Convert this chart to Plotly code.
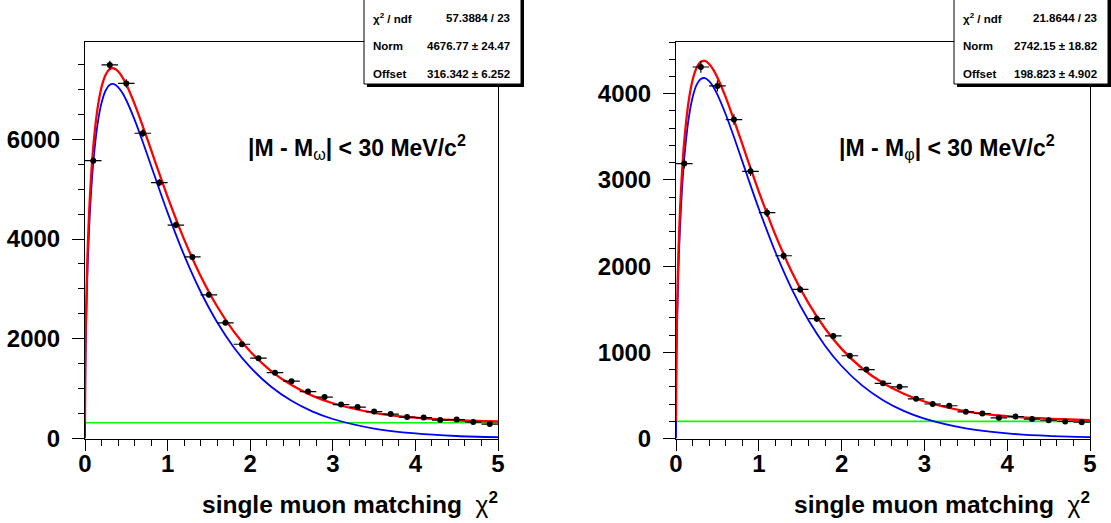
import numpy as np
import plotly.graph_objects as go

# ---------------- data ----------------
BIN_CENTERS = [0.1, 0.3, 0.5, 0.7, 0.9, 1.1, 1.3, 1.5, 1.7, 1.9, 2.1, 2.3, 2.5,
               2.7, 2.9, 3.1, 3.3, 3.5, 3.7, 3.9, 4.1, 4.3, 4.5, 4.7, 4.9]
BIN_HALF_WIDTH = 0.1

OMEGA_COUNTS = [5570, 7490, 7120, 6120, 5130, 4280, 3640, 2880, 2320, 1890, 1610,
                1320, 1150, 940, 830, 680, 630, 540, 490, 430, 420, 370, 380, 330, 290]
PHI_COUNTS = [3190, 4310, 4090, 3700, 3100, 2620, 2120, 1730, 1390, 1190, 960,
              800, 640, 600, 460, 400, 380, 310, 290, 240, 255, 225, 212, 197, 189]

CURVE_X = [0, 0.002, 0.005, 0.01, 0.03, 0.05, 0.07, 0.1, 0.15, 0.2, 0.25, 0.3, 0.35,
           0.4, 0.45, 0.5, 0.6, 0.7, 0.8, 0.9, 1.0, 1.2, 1.4, 1.6, 1.8, 2.0, 2.25,
           2.5, 2.75, 3.0, 3.5, 4.0, 4.5, 5.0]
OMEGA_SIGNAL = [0, 905, 1425, 2000, 3362, 4212, 4837, 5526, 6279, 6726, 6977, 7091, 7106,
                7047, 6936, 6782, 6394, 5944, 5470, 4993, 4530, 3677, 2942, 2330, 1831,
                1430, 1042, 755, 544, 391, 199, 101, 50, 25]
OMEGA_TOTAL = [316, 1221, 1741, 2316, 3678, 4528, 5153, 5842, 6595, 7042, 7293, 7407, 7422,
               7363, 7252, 7098, 6710, 6260, 5786, 5309, 4846, 3993, 3258, 2646, 2147,
               1746, 1358, 1071, 860, 707, 515, 417, 366, 341]
PHI_SIGNAL = [0, 533, 838, 1177, 1978, 2478, 2846, 3251, 3695, 3957, 4105, 4172, 4181,
              4146, 4081, 3990, 3762, 3497, 3218, 2937, 2666, 2164, 1731, 1371, 1077,
              841, 613, 444, 320, 230, 117, 59, 30, 15]
PHI_TOTAL = [199, 732, 1037, 1376, 2177, 2677, 3045, 3450, 3894, 4156, 4304, 4371, 4380,
             4345, 4280, 4189, 3961, 3696, 3417, 3136, 2865, 2363, 1930, 1570, 1276,
             1040, 812, 643, 519, 429, 316, 258, 229, 214]

X_RANGE = [0, 5]
OMEGA_OFFSET = 316.342
PHI_OFFSET = 198.823

OMEGA_STATS = [("χ<sup>2</sup> / ndf", "57.3884 / 23"),
               ("Norm", "4676.77 ± 24.47"),
               ("Offset", "316.342 ± 6.252")]
PHI_STATS = [("χ<sup>2</sup> / ndf", "21.8644 / 23"),
             ("Norm", "2742.15 ± 18.82"),
             ("Offset", "198.823 ± 4.902")]

OMEGA_LABEL = "<b>|M - M</b><sub>ω</sub><b>| &lt; 30 MeV/c<sup>2</sup></b>"
PHI_LABEL = "<b>|M - M</b><sub>φ</sub><b>| &lt; 30 MeV/c<sup>2</sup></b>"
X_TITLE = "<b>single muon matching</b>  χ<b><sup>2</sup></b>"

# ---------------- layout helpers ----------------
W, H = 1111, 523
FONT = "Liberation Sans, Arial, Helvetica, sans-serif"


def fx(p):
    return p / W


def fy(p):
    return 1 - p / H


PANELS = [
    dict(xa="x", ya="y", left=85, right=498, counts=OMEGA_COUNTS, sig=OMEGA_SIGNAL,
         tot=OMEGA_TOTAL, off=OMEGA_OFFSET, ymax=7950, dtick=2000, minor=500,
         stats=OMEGA_STATS, box=(364, 521), label=OMEGA_LABEL),
    dict(xa="x2", ya="y2", left=676, right=1090, counts=PHI_COUNTS, sig=PHI_SIGNAL,
         tot=PHI_TOTAL, off=PHI_OFFSET, ymax=4600, dtick=1000, minor=200,
         stats=PHI_STATS, box=(954, 1108), label=PHI_LABEL),
]
TOP, BOTTOM = 42, 438.5

fig = go.Figure()
shapes, annotations = [], []
layout = dict(width=W, height=H, margin=dict(l=0, r=0, t=0, b=0),
              paper_bgcolor="white", plot_bgcolor="white", showlegend=False,
              font=dict(family=FONT, color="black"))

for i, p in enumerate(PANELS):
    xa, ya = p["xa"], p["ya"]
    fig.add_trace(go.Scatter(x=X_RANGE, y=[p["off"], p["off"]], mode="lines",
                             line=dict(color="#00ff00", width=1.6), xaxis=xa, yaxis=ya))
    fig.add_trace(go.Scatter(x=CURVE_X, y=p["sig"], mode="lines",
                             line=dict(color="#0000ff", width=1.8, shape="spline", smoothing=0.8),
                             xaxis=xa, yaxis=ya))
    fig.add_trace(go.Scatter(x=CURVE_X, y=p["tot"], mode="lines",
                             line=dict(color="#ff0000", width=2.3, shape="spline", smoothing=0.8),
                             xaxis=xa, yaxis=ya))
    fig.add_trace(go.Scatter(
        x=BIN_CENTERS, y=p["counts"], mode="markers",
        marker=dict(color="black", size=6),
        error_x=dict(type="constant", value=BIN_HALF_WIDTH, thickness=1.2, width=0, color="black"),
        error_y=dict(type="data", array=np.sqrt(p["counts"]), thickness=1.2, width=0, color="black"),
        xaxis=xa, yaxis=ya))

    sfx = "" if i == 0 else "2"
    layout["xaxis" + sfx] = dict(
        domain=[fx(p["left"]), fx(p["right"])], range=X_RANGE, anchor=ya,
        showline=True, linecolor="black", linewidth=1, mirror=True,
        ticks="outside", ticklen=11, tickwidth=1, tickcolor="black", dtick=1, tick0=0,
        minor=dict(ticks="outside", ticklen=6, dtick=0.2, tick0=0, tickcolor="black", showgrid=False),
        tickfont=dict(family=FONT, size=24, weight="bold", color="black"),
        showgrid=False, zeroline=False, automargin=False, ticklabelstandoff=-7)
    layout["yaxis" + sfx] = dict(
        domain=[fy(BOTTOM), fy(TOP)], range=[0, p["ymax"]], anchor=xa,
        showline=True, linecolor="black", linewidth=1, mirror=True,
        ticks="outside", ticklen=12, tickwidth=1, tickcolor="black", dtick=p["dtick"], tick0=0,
        minor=dict(ticks="outside", ticklen=6, dtick=p["minor"], tick0=0, tickcolor="black", showgrid=False),
        tickfont=dict(family=FONT, size=24, weight="bold", color="black"),
        showgrid=False, zeroline=False, automargin=False, ticklabelstandoff=7)

    # axis title (right aligned, like ROOT)
    annotations.append(dict(text=X_TITLE, xref="paper", yref="paper",
                            x=fx(p["right"] + 2), y=fy(502), xanchor="right", yanchor="middle",
                            showarrow=False, font=dict(family=FONT, size=24.5, color="black")))
    # selection label
    annotations.append(dict(text=p["label"], xref="paper", yref="paper",
                            x=fx(p["left"] + 161), y=fy(147), xanchor="left", yanchor="middle",
                            showarrow=False, font=dict(family=FONT, size=23, color="black")))

    # stats box with shadow
    bx0, bx1 = p["box"]
    shapes.append(dict(type="rect", xref="paper", yref="paper", layer="above",
                       x0=fx(bx0 + 3), x1=fx(bx1 + 3), y0=fy(87), y1=fy(-5),
                       fillcolor="black", line=dict(width=0)))
    shapes.append(dict(type="rect", xref="paper", yref="paper", layer="above",
                       x0=fx(bx0), x1=fx(bx1), y0=fy(84), y1=fy(-5),
                       fillcolor="white", line=dict(color="black", width=1)))
    for (name, val), yy in zip(p["stats"], [18, 46, 74]):
        annotations.append(dict(text="<b>" + name + "</b>", xref="paper", yref="paper",
                                x=fx(bx0 + 7), y=fy(yy), xanchor="left", yanchor="middle",
                                showarrow=False, font=dict(family=FONT, size=11.5, color="black")))
        annotations.append(dict(text="<b>" + val + "</b>", xref="paper", yref="paper",
                                x=fx(bx1 - 9), y=fy(yy), xanchor="right", yanchor="middle",
                                showarrow=False, font=dict(family=FONT, size=11.5, color="black")))

layout["shapes"] = shapes
layout["annotations"] = annotations
fig.update_layout(**layout)
fig.write_html("out.html")
